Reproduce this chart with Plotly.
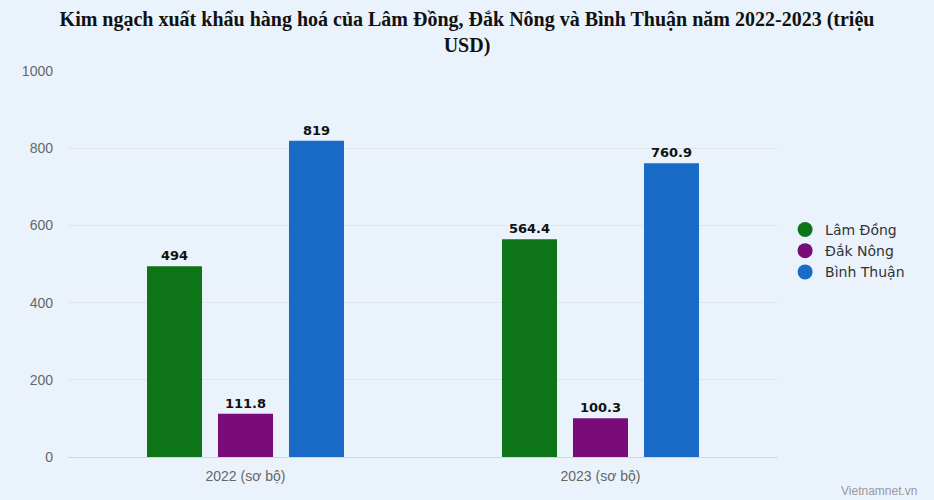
import plotly.graph_objects as go

categories = ["2022 (sơ bộ)", "2023 (sơ bộ)"]
series_names = ["Lâm Đồng", "Đắk Nông", "Bình Thuận"]
lam_dong = [494, 564.4]
dak_nong = [111.8, 100.3]
binh_thuan = [819, 760.9]
label_lam_dong = ["494", "564.4"]
label_dak_nong = ["111.8", "100.3"]
label_binh_thuan = ["819", "760.9"]
colors = ["#0E7418", "#790C79", "#1A6BC7"]
y_ticks = [0, 200, 400, 600, 800, 1000]

values = [lam_dong, dak_nong, binh_thuan]
labels = [label_lam_dong, label_dak_nong, label_binh_thuan]

bg = "#EAF3FC"
fig = go.Figure()
for name, vals, labs, col in zip(series_names, values, labels, colors):
    fig.add_trace(go.Bar(
        x=categories, y=vals, name=name, text=labs,
        textposition="outside", texttemplate="%{text}",
        textfont=dict(family="DejaVu Sans", size=13, color="#111111", weight="bold"),
        marker=dict(color=col, line=dict(width=0)),
        showlegend=False, cliponaxis=False,
    ))
for name, col in zip(series_names, colors):
    fig.add_trace(go.Scatter(
        x=[None], y=[None], mode="markers", name=name,
        marker=dict(symbol="circle", size=15, color=col),
    ))

fig.update_layout(
    width=934, height=500,
    paper_bgcolor=bg, plot_bgcolor=bg,
    margin=dict(l=68, r=156, t=71, b=43),
    barmode="group", bargap=0.4, bargroupgap=0.225,
    title=dict(
        text="Kim ngạch xuất khẩu hàng hoá của Lâm Đồng, Đắk Nông và Bình Thuận năm 2022-2023 (triệu<br>USD)",
        x=0.5, xanchor="center", xref="container",
        y=0.949, yanchor="top",
        font=dict(family="Liberation Serif", size=20, color="#111111", weight="bold"),
    ),
    legend=dict(
        x=1.01, xanchor="left", y=0.534, yanchor="middle",
        font=dict(family="DejaVu Sans", size=14, color="#333333"),
        itemwidth=30, tracegroupgap=0, bgcolor="rgba(0,0,0,0)",
    ),
    xaxis=dict(
        showgrid=False, showline=True, linecolor="#C9D5E8", linewidth=1,
        tickfont=dict(family="Liberation Sans Narrow, Liberation Sans", size=14, color="#666666"),
        ticks="", ticklabelstandoff=6,
    ),
    yaxis=dict(
        range=[0, 1000], tickvals=y_ticks, showgrid=True, gridcolor="#E2E4EA", gridwidth=1,
        zeroline=False,
        tickfont=dict(family="Liberation Sans Narrow, Liberation Sans", size=14, color="#666666"),
        ticklabelstandoff=14,
    ),
    annotations=[dict(
        text="Vietnamnet.vn", xref="paper", yref="paper", x=1.0, y=0, xanchor="right", yanchor="middle",
        xshift=142, yshift=-34, showarrow=False,
        font=dict(family="Liberation Sans Narrow, Liberation Sans", size=12, color="#999999"),
    )],
)

fig.write_html(
    "out.html",
    config={"displayModeBar": False},
    post_script="document.body.style.margin='0';document.body.style.overflow='hidden';",
)
